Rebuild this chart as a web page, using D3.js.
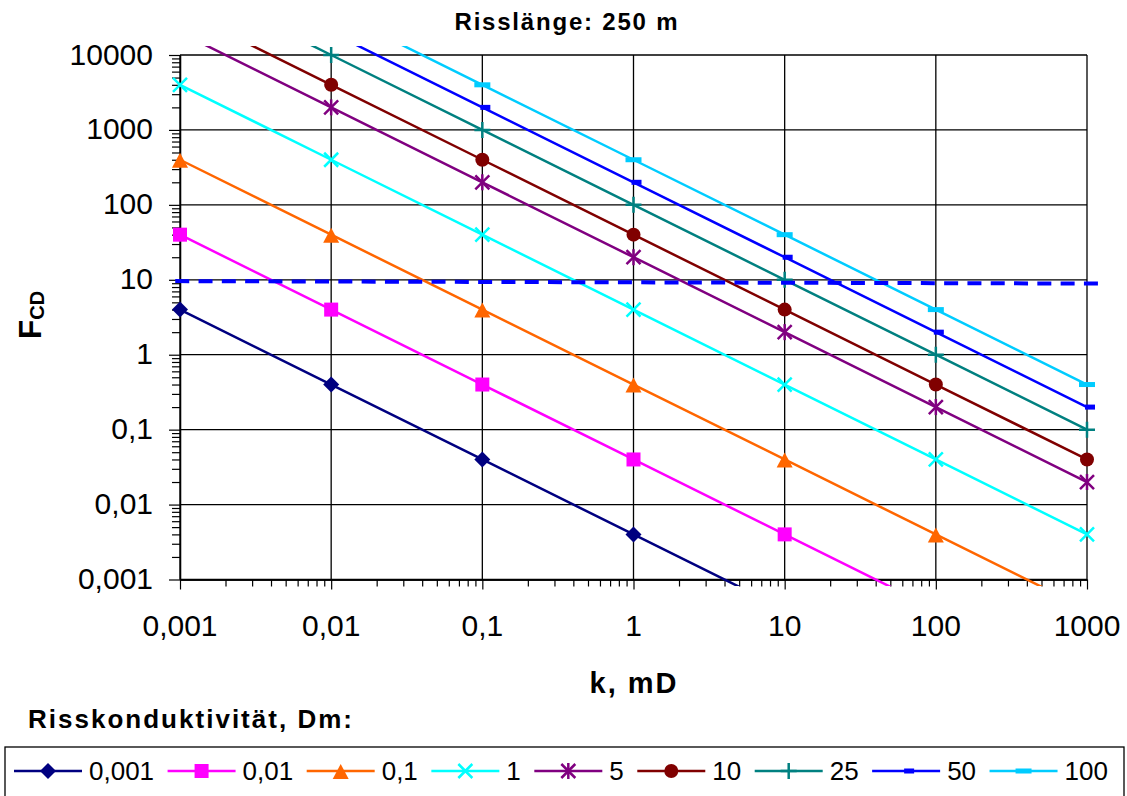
<!DOCTYPE html>
<html>
<head>
<meta charset="utf-8">
<script src="https://cdn.jsdelivr.net/npm/d3@7"></script>
<style>
  body { margin: 0; background: #fff; }
  svg { display: block; font-family: "Liberation Sans", Arial, sans-serif; }
</style>
</head>
<body>
<svg id="chart" width="1127" height="796"></svg>
<script>
// permeability k (mD)
const kValues = [0.001, 0.01, 0.1, 1, 10, 100, 1000]

// FCD per fracture conductivity (Dm)
const fcd_0001 = [4, 0.4, 0.04, 0.004, 0.0004, 0.00004, 0.000004]
const fcd_001  = [40, 4, 0.4, 0.04, 0.004, 0.0004, 0.00004]
const fcd_01   = [400, 40, 4, 0.4, 0.04, 0.004, 0.0004]
const fcd_1    = [4000, 400, 40, 4, 0.4, 0.04, 0.004]
const fcd_5    = [20000, 2000, 200, 20, 2, 0.2, 0.02]
const fcd_10   = [40000, 4000, 400, 40, 4, 0.4, 0.04]
const fcd_25   = [100000, 10000, 1000, 100, 10, 1, 0.1]
const fcd_50   = [200000, 20000, 2000, 200, 20, 2, 0.2]
const fcd_100  = [400000, 40000, 4000, 400, 40, 4, 0.4]

const seriesNames = ["0,001", "0,01", "0,1", "1", "5", "10", "25", "50", "100"]
const seriesValues = [fcd_0001, fcd_001, fcd_01, fcd_1, fcd_5, fcd_10, fcd_25, fcd_50, fcd_100]
const seriesColors = ["#000080", "#FF00FF", "#FF6600", "#00FFFF", "#800080", "#800000", "#008080", "#0000FF", "#00CCFF"]
const seriesMarkers = ["diamond", "square", "triangle", "x", "star", "circle", "plus", "dash", "longdash"]

// dashed reference line (FCD ~ 10)
const refK = [0.00093, 1200]
const refF = [9.6, 8.9]

const xTicks = [0.001, 0.01, 0.1, 1, 10, 100, 1000]
const yTicks = [0.001, 0.01, 0.1, 1, 10, 100, 1000, 10000]
const tickLabel = v => String(v).replace(".", ",")

const svg = d3.select("#chart")
const pLeft = 180, pRight = 1087, pTop = 55, pBottom = 579.5

const x = d3.scaleLog().domain([0.001, 1000]).range([pLeft, pRight])
const y = d3.scaleLog().domain([0.001, 10000]).range([pBottom, pTop])

// minor ticks 2..9 for each decade
function minors(domain) {
  let out = []
  for (let e = Math.round(Math.log10(domain[0])); e < Math.round(Math.log10(domain[1])); e++)
    for (let m = 2; m <= 9; m++) out.push(m * Math.pow(10, e))
  return out
}

// gridlines
svg.append("g").selectAll("line").data(yTicks).join("line")
  .attr("x1", pLeft).attr("x2", pRight)
  .attr("y1", d => y(d)).attr("y2", d => y(d))
  .attr("stroke", "#000").attr("stroke-width", 1.3)
svg.append("g").selectAll("line").data(xTicks).join("line")
  .attr("x1", d => x(d)).attr("x2", d => x(d))
  .attr("y1", pTop).attr("y2", pBottom)
  .attr("stroke", "#000").attr("stroke-width", 1.3)

// y axis
const yAxis = svg.append("g").attr("transform", `translate(${pLeft},0)`)
yAxis.call(d3.axisLeft(y).tickValues(minors(y.domain())).tickSize(8).tickSizeOuter(0).tickFormat(""))
yAxis.append("g").call(d3.axisLeft(y).tickValues(yTicks).tickSize(11).tickSizeOuter(0).tickFormat(""))
yAxis.selectAll("path.domain").attr("stroke-width", 1.3)
yAxis.selectAll("line").attr("stroke", "#000").attr("stroke-width", 1.2)

svg.append("g").selectAll("text").data(yTicks).join("text")
  .attr("x", 153).attr("y", d => y(d) + 9.5)
  .attr("text-anchor", "end").attr("font-size", 30)
  .text(tickLabel)

// x axis
const xAxis = svg.append("g").attr("transform", `translate(0,${pBottom})`)
xAxis.call(d3.axisBottom(x).tickValues(minors(x.domain())).tickSize(7).tickSizeOuter(0).tickFormat(""))
xAxis.append("g").call(d3.axisBottom(x).tickValues(xTicks).tickSize(10).tickSizeOuter(0).tickFormat(""))
xAxis.selectAll("path.domain").attr("stroke-width", 1.3)
xAxis.selectAll("line").attr("stroke", "#000").attr("stroke-width", 1.2)

svg.append("g").selectAll("text").data(xTicks).join("text")
  .attr("x", d => x(d)).attr("y", 636)
  .attr("text-anchor", "middle").attr("font-size", 30)
  .text(tickLabel)

// titles
svg.append("text").attr("x", 566).attr("y", 30).attr("text-anchor", "middle")
  .attr("font-size", 24).attr("font-weight", "bold")
  .attr("textLength", 223).attr("lengthAdjust", "spacing")
  .text("Risslänge: 250 m")

svg.append("text").attr("x", 633).attr("y", 693).attr("text-anchor", "middle")
  .attr("font-size", 29).attr("font-weight", "bold")
  .attr("textLength", 87).attr("lengthAdjust", "spacing")
  .text("k, mD")

const yLab = svg.append("text").attr("transform", "translate(41,315) rotate(-90)")
  .attr("text-anchor", "middle").attr("font-weight", "bold")
yLab.append("tspan").attr("font-size", 32).text("F")
yLab.append("tspan").attr("font-size", 20).attr("dy", 3).text("CD")

svg.append("text").attr("x", 28).attr("y", 728)
  .attr("font-size", 26).attr("font-weight", "bold")
  .attr("textLength", 324).attr("lengthAdjust", "spacing")
  .text("Risskonduktivität, Dm:")

// markers
function drawMarker(g, type, color) {
  if (type == "diamond") g.append("path").attr("d", "M0,-8L8,0L0,8L-8,0Z").attr("fill", color)
  if (type == "square") g.append("rect").attr("x", -7).attr("y", -7).attr("width", 14).attr("height", 14).attr("fill", color)
  if (type == "triangle") g.append("path").attr("d", "M0,-7L8,8L-8,8Z").attr("fill", color)
  if (type == "circle") g.append("circle").attr("r", 7).attr("fill", color)
  if (type == "x" || type == "star")
    g.append("path").attr("d", "M-7,-7L7,7M-7,7L7,-7").attr("stroke", color).attr("stroke-width", 2.5)
  if (type == "star")
    g.append("path").attr("d", "M0,-8L0,8").attr("stroke", color).attr("stroke-width", 2.5)
  if (type == "plus")
    g.append("path").attr("d", "M-8,0L8,0M0,-8L0,8").attr("stroke", color).attr("stroke-width", 2.5)
  if (type == "dash") g.append("rect").attr("x", -2).attr("y", -2.5).attr("width", 10).attr("height", 5).attr("fill", color)
  if (type == "longdash") g.append("rect").attr("x", -8).attr("y", -2.5).attr("width", 16).attr("height", 5).attr("fill", color)
}

svg.append("clipPath").attr("id", "plotclip")
  .append("rect").attr("x", 0).attr("y", 46).attr("width", 1127).attr("height", 540)

const line = d3.line().x(d => x(d[0])).y(d => y(d[1]))

seriesValues.forEach((vals, i) => {
  const pts = kValues.map((k, j) => [k, vals[j]])
  svg.append("path")
    .attr("d", line(pts))
    .attr("clip-path", "url(#plotclip)")
    .attr("fill", "none")
    .attr("stroke", seriesColors[i])
    .attr("stroke-width", 2.5)
  pts.filter(p => p[1] >= 0.00099 && p[1] <= 10001).forEach(p => {
    const g = svg.append("g").attr("transform", `translate(${x(p[0])},${y(p[1])})`)
    drawMarker(g, seriesMarkers[i], seriesColors[i])
  })
})

// dashed reference line
svg.append("path")
  .attr("d", line(refK.map((k, j) => [k, refF[j]])))
  .attr("fill", "none").attr("stroke", "#0000FF")
  .attr("stroke-width", 4).attr("stroke-dasharray", "14,9.3")

// legend
svg.append("rect").attr("x", 5).attr("y", 747).attr("width", 1119).attr("height", 60)
  .attr("fill", "none").attr("stroke", "#000").attr("stroke-width", 1.3)

let cx = 14
seriesNames.forEach((name, i) => {
  const g = svg.append("g")
  g.append("line").attr("x1", cx).attr("x2", cx + 68).attr("y1", 771).attr("y2", 771)
    .attr("stroke", seriesColors[i]).attr("stroke-width", 2.5)
  const m = g.append("g").attr("transform", `translate(${cx + 34},771)`)
  drawMarker(m, seriesMarkers[i], seriesColors[i])
  const t = g.append("text").attr("x", cx + 75).attr("y", 780).attr("font-size", 26).text(name)
  cx = cx + 75 + t.node().getComputedTextLength() + 13.5
})
</script>
</body>
</html>
